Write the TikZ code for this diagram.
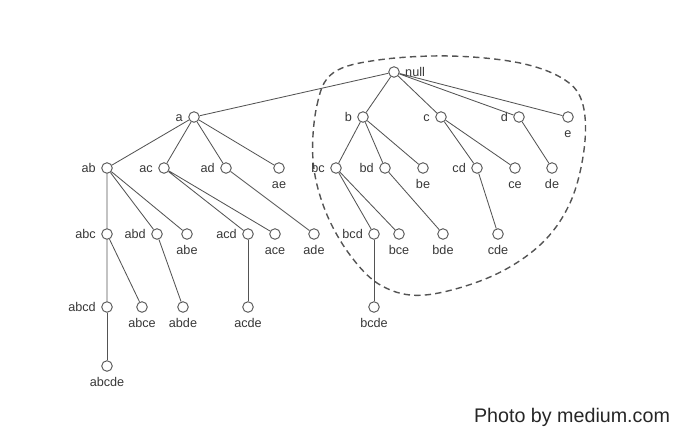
\documentclass[tikz,border=0pt]{standalone}
\usepackage{fontspec}
\setmainfont{Liberation Sans}
\definecolor{linegray}{gray}{0.33}
\definecolor{textgray}{gray}{0.22}

\begin{document}
\begin{tikzpicture}[x=0.025cm,y=-0.025cm,
	item/.style={circle,draw=linegray,fill=white,line width=0.65pt,minimum size=7.5pt,inner sep=0pt},
	every label/.style={font=\fontsize{9}{10}\selectfont,text=textgray,text height=6.5pt,text depth=0pt,inner sep=2.5pt},
	label distance=1.2pt,
	link/.style={draw=linegray,line width=0.6pt},
	hull/.style={draw=linegray,line width=1pt,dash pattern=on 4.5pt off 3pt}]
				\useasboundingbox (0,0) rectangle (690,443);
				
				\draw[hull] plot[smooth cycle, tension=0.6] coordinates {(313,160) (317,105) (333,73) (378,60) (450,56) (520,63) (565,80) (583,105) (584,150) (570,203) (540,245) (490,277) (425,295) (382,286) (350,255) (325,210)};
				
				\node[item, label=right:null] (null) at (394,72) {};
				
				\node[item, label=left:a] (a) at (194,117) {};
				\node[item, label=left:b] (b) at (363,117) {};
				\node[item, label=left:c] (c) at (441,117) {};
				\node[item, label=left:d] (d) at (519,117) {};
				\node[item, label=below:e] (e) at (568,117) {};
				
				\node[item, label=left:ab] (ab) at (107,168) {};
				\node[item, label=left:ac] (ac) at (164,168) {};
				\node[item, label=left:ad] (ad) at (226,168) {};
				\node[item, label=below:ae] (ae) at (279,168) {};
				\node[item, label=left:bc] (bc) at (336,168) {};
				\node[item, label=left:bd] (bd) at (385,168) {};
				\node[item, label=below:be] (be) at (423,168) {};
				\node[item, label=left:cd] (cd) at (477,168) {};
				\node[item, label=below:ce] (ce) at (515,168) {};
				\node[item, label=below:de] (de) at (552,168) {};
				
				\node[item, label=left:abc] (abc) at (107,234) {};
				\node[item, label=left:abd] (abd) at (157,234) {};
				\node[item, label=below:abe] (abe) at (187,234) {};
				\node[item, label=left:acd] (acd) at (248,234) {};
				\node[item, label=below:ace] (ace) at (275,234) {};
				\node[item, label=below:ade] (ade) at (314,234) {};
				\node[item, label=left:bcd] (bcd) at (374,234) {};
				\node[item, label=below:bce] (bce) at (399,234) {};
				\node[item, label=below:bde] (bde) at (443,234) {};
				\node[item, label=below:cde] (cde) at (498,234) {};
				
				\node[item, label=left:abcd] (abcd) at (107,307) {};
				\node[item, label=below:abce] (abce) at (142,307) {};
				\node[item, label=below:abde] (abde) at (183,307) {};
				\node[item, label=below:acde] (acde) at (248,307) {};
				\node[item, label=below:bcde] (bcde) at (374,307) {};
				
				\node[item, label=below:abcde] (abcde) at (107,366) {};
				
				\draw[link] (null) -- (a) (null) -- (b) (null) -- (c) (null) -- (d) (null) -- (e);
				\draw[link] (a) -- (ab) (a) -- (ac) (a) -- (ad) (a) -- (ae);
				\draw[link] (b) -- (bc) (b) -- (bd) (b) -- (be);
				\draw[link] (c) -- (cd) (c) -- (ce);
				\draw[link] (d) -- (de);
				\draw[link] (ab) -- (abc) (ab) -- (abd) (ab) -- (abe);
				\draw[link] (ac) -- (acd) (ac) -- (ace);
				\draw[link] (ad) -- (ade);
				\draw[link] (bc) -- (bcd) (bc) -- (bce);
				\draw[link] (bd) -- (bde);
				\draw[link] (cd) -- (cde);
				\draw[link] (abc) -- (abcd) (abc) -- (abce);
				\draw[link] (abd) -- (abde);
				\draw[link] (acd) -- (acde);
				\draw[link] (bcd) -- (bcde);
				\draw[link] (abcd) -- (abcde);
				
				\node[font=\fontsize{14}{16}\selectfont, text=black!85] (credit) at (572,417) {Photo by medium.com};
\end{tikzpicture}
\end{document}
